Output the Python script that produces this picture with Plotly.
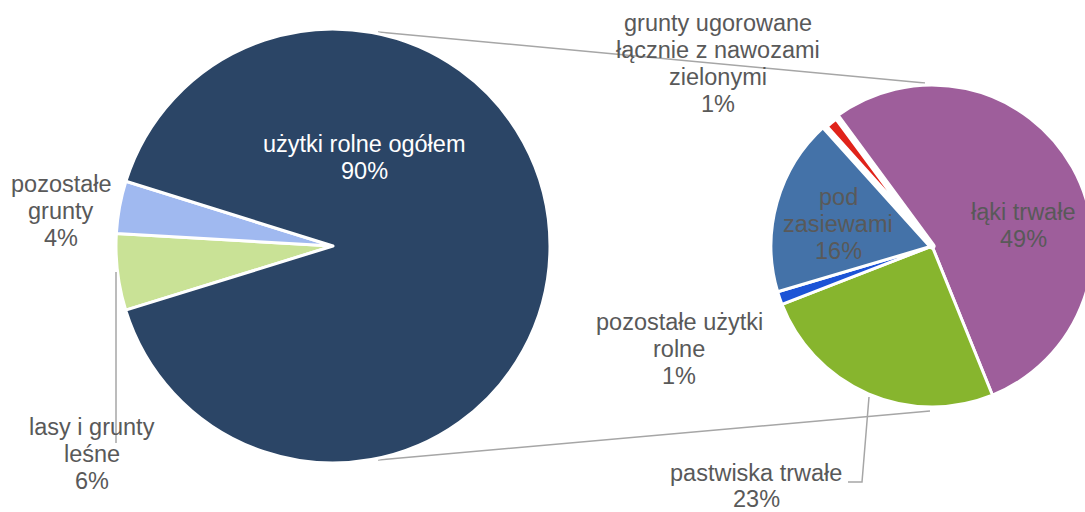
import plotly.graph_objects as go

# ---------------- data ----------------
main_labels = ["lasy i grunty leśne", "pozostałe grunty", "użytki rolne ogółem"]
main_values = [5.7, 3.9, 90.4]
main_colors = ["#C9E296", "#A0B9F0", "#2B4566"]

sub_labels = ["łąki trwałe", "pastwiska trwałe", "pozostałe użytki rolne",
              "pod zasiewami", "grunty ugorowane łącznie z nawozami zielonymi"]
sub_values = [48.8, 22.8, 1.2, 16.2, 1.4]
sub_colors = ["#9E5E9B", "#87B52E", "#1C53D6", "#4472A8", "#E0231A"]

main_label_lines = [["lasy i grunty", "leśne"], ["pozostałe", "grunty"], ["użytki rolne ogółem"]]
sub_label_lines = [["łąki trwałe"], ["pastwiska trwałe"], ["pozostałe użytki", "rolne"],
                   ["pod", "zasiewami"], ["grunty ugorowane", "łącznie z nawozami", "zielonymi"]]

# ---------------- layout helpers ----------------
W, H = 1094, 512
FONT = "Liberation Sans, Arial, sans-serif"
FS = 23.5
GRAY = "#595959"
LINEGRAY = "#A6A6A6"


def px(x):
    return x / W


def py(y):
    return 1 - y / H


def domain(cx, cy, r):
    return dict(x=[px(cx - r), px(cx + r)], y=[py(cy + r), py(cy - r)])


total = sum(main_values)

fig = go.Figure()
fig.add_trace(go.Pie(
    labels=main_labels, values=main_values, sort=False, direction="clockwise",
    rotation=-107.2, marker=dict(colors=main_colors, line=dict(color="white", width=3)),
    textinfo="none", hoverinfo="label+percent", domain=domain(333, 246, 217),
    showlegend=False,
))
fig.add_trace(go.Pie(
    labels=sub_labels, values=sub_values, sort=False, direction="clockwise",
    rotation=-36.4,
    marker=dict(colors=sub_colors, line=dict(color="white", width=[3, 3, 3, 3, 7])),
    textinfo="none", hoverinfo="label+value", domain=domain(932, 246, 161),
    showlegend=False,
))

# label placement (centre x, centre y of first line, line spacing), in pixels
main_label_pos = [(92, 427, 27), (61, 184, 27), (364, 144, 27)]
main_label_col = [GRAY, GRAY, "white"]
sub_label_pos = [(1023, 212, 27), (756, 473, 26), (679, 322, 27), (838, 197, 27), (718, 23, 27)]

annotations = []


def add_label(lines, value, pos, color):
    all_lines = list(lines) + [f"{round(value / total * 100)}%"]
    x, y0, step = pos
    for i, t in enumerate(all_lines):
        annotations.append(dict(
            x=px(x), y=py(y0 + i * step), xref="paper", yref="paper",
            text=t, showarrow=False, xanchor="center", yanchor="middle",
            font=dict(family=FONT, size=FS, color=color),
        ))


for lines, v, pos, c in zip(main_label_lines, main_values, main_label_pos, main_label_col):
    add_label(lines, v, pos, c)
for lines, v, pos in zip(sub_label_lines, sub_values, sub_label_pos):
    add_label(lines, v, pos, GRAY)

shapes = [
    dict(type="line", xref="paper", yref="paper", x0=px(378), y0=py(32), x1=px(925), y1=py(83),
         line=dict(color=LINEGRAY, width=1.5), layer="below"),
    dict(type="line", xref="paper", yref="paper", x0=px(378), y0=py(460), x1=px(930), y1=py(411),
         line=dict(color=LINEGRAY, width=1.5), layer="below"),
    dict(type="line", xref="paper", yref="paper", x0=px(116), y0=py(272), x1=px(116), y1=py(443),
         line=dict(color=LINEGRAY, width=1.5), layer="above"),
    dict(type="path", xref="paper", yref="paper",
         path=f"M {px(869)} {py(397)} L {px(862)} {py(482)} L {px(848)} {py(482)}",
         line=dict(color=LINEGRAY, width=1.5), layer="above"),
]

fig.update_layout(
    width=W, height=H, autosize=False,
    margin=dict(l=0, r=0, t=0, b=0, pad=0),
    paper_bgcolor="white", plot_bgcolor="white",
    annotations=annotations, shapes=shapes,
    font=dict(family=FONT),
)

fig.write_html("out.html", include_plotlyjs=True, full_html=True,
               config={"displayModeBar": False},
               post_script="document.body.style.margin='0';document.body.style.overflow='hidden';")
